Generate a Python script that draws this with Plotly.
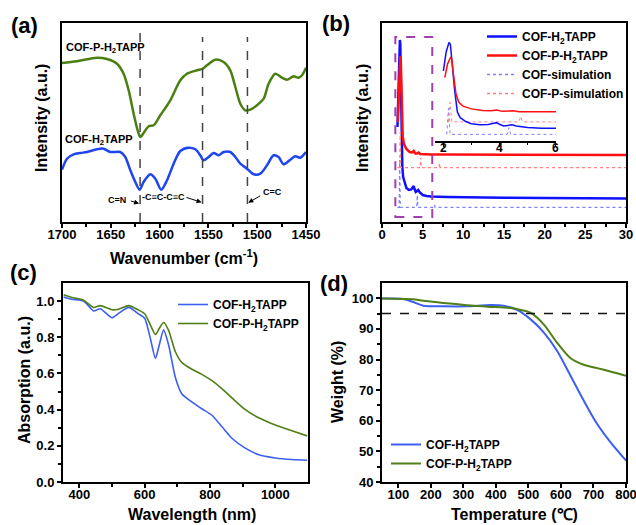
import plotly.graph_objects as go

# ---------------- DATA ----------------
# (a) FTIR, wavenumber (cm-1) vs intensity (a.u.)
ftir_wn_p = [1700, 1684.7, 1664.2, 1653.9, 1643.7, 1636.9, 1631.7, 1626.6, 1622.5, 1619.8, 1615.7, 1611.2,
             1606.1, 1599.3, 1589.0, 1578.8, 1572.0, 1561.7, 1555.6, 1551.5, 1542.9, 1534.4, 1527.6, 1522.4,
             1517.3, 1512.2, 1507.1, 1500.3, 1493.4, 1488.3, 1481.5, 1474.7, 1469.5, 1462.7, 1457.6, 1454.1, 1450]
ftir_int_p = [159, 160.7, 164.3, 163, 158.3, 148.3, 131.7, 108.3, 91.7, 85, 90, 95.7,
              96.7, 106.7, 121.7, 141.7, 148.3, 151.7, 153.3, 156.7, 162.3, 160, 151.7, 135,
              118.3, 111.7, 112.3, 116.7, 123.3, 138.3, 148.3, 144.3, 142.3, 145.7, 144.3, 146.7, 154.3]
ftir_wn_c = [1700, 1694.9, 1688.1, 1681.3, 1674.4, 1664.2, 1657.3, 1650.5, 1640.3, 1635.2, 1630.0, 1624.9,
             1620.5, 1616.4, 1609.5, 1604.4, 1598.3, 1592.4, 1585.6, 1578.8, 1570.2, 1563.4, 1558.3, 1554.9,
             1549.8, 1544.6, 1539.5, 1534.4, 1527.6, 1522.4, 1517.3, 1510.5, 1503.7, 1496.8, 1490.0, 1483.2,
             1478.1, 1473.0, 1466.1, 1461.0, 1455.9, 1450]
ftir_int_c = [52.3, 63.3, 67.7, 69, 70, 72.7, 73.3, 70, 70, 65, 51.7, 40,
              32.3, 40, 47.7, 43.3, 32.3, 41.7, 58.3, 71, 74.3, 72.7, 66.7, 61.7,
              65, 69, 66.7, 70, 70, 65, 58.3, 53.3, 47.7, 48.3, 56.7, 66.7,
              65, 57.7, 62.3, 65.7, 64.3, 70]
ftir_marks = [1620, 1556, 1510]

# (b) PXRD, 2theta vs intensity (a.u.)
xrd_x_c = [1.9, 2.0, 2.1, 2.2, 2.25, 2.3, 2.4, 2.5, 2.6, 2.8, 3.0, 3.3, 3.6, 3.8, 3.9, 4.0, 4.15, 4.3, 4.45,
           4.6, 4.8, 5.0, 5.5, 6.0, 8, 10, 15, 20, 25, 30]
xrd_y_c = [95, 130, 165, 182, 178, 150, 95, 55, 45, 38, 34, 32, 32.5, 35, 36, 33, 30, 31, 32,
           30, 28, 27, 26, 25.5, 25, 24.6, 24.2, 24, 23.8, 23.6]
xrd_x_p = [1.95, 2.05, 2.15, 2.25, 2.3, 2.35, 2.45, 2.55, 2.7, 3.0, 3.4, 3.7, 3.9, 4.1, 4.3, 4.5, 4.7, 5.0,
           6.0, 8, 10, 15, 20, 25, 30]
xrd_y_p = [100, 130, 155, 166, 164, 140, 100, 85, 78, 73, 70, 69.5, 71, 68.5, 68.5, 69.5, 68, 67.8,
           67.6, 67.5, 67.4, 67.2, 67.1, 67, 67]
sim_x_c = [1.9, 2.12, 2.18, 2.24, 4.28, 4.34, 4.40, 6.40, 6.46, 6.52, 30]
sim_y_c = [14.7, 14.7, 62, 14.7, 14.7, 27, 14.7, 14.7, 17, 14.7, 14.7]
sim_x_p = [1.9, 2.18, 2.24, 2.30, 4.70, 4.76, 4.82, 7.02, 7.08, 7.14, 30]
sim_y_p = [54.3, 54.3, 90, 54.3, 54.3, 64.3, 54.3, 54.3, 58.7, 54.3, 54.3]

# (c) UV-vis absorption
uv_wl = [352, 377, 413, 444, 464, 500, 520, 551, 582, 600, 617, 633, 645, 658, 673, 694, 714, 745, 775,
         806, 837, 867, 908, 949, 1000, 1051, 1097]
uv_c = [1.023, 1.01, 1.0, 0.945, 0.958, 0.908, 0.932, 0.965, 0.928, 0.905, 0.796, 0.683, 0.76, 0.841,
        0.76, 0.578, 0.487, 0.442, 0.405, 0.369, 0.305, 0.242, 0.187, 0.151, 0.133, 0.124, 0.12]
uv_p = [1.035, 1.02, 1.005, 0.965, 0.975, 0.952, 0.955, 0.975, 0.95, 0.93, 0.87, 0.815, 0.85, 0.882,
        0.84, 0.72, 0.66, 0.623, 0.595, 0.56, 0.515, 0.465, 0.4, 0.355, 0.315, 0.283, 0.255]

# (d) TGA
tga_t = [50, 115, 146, 177, 239, 311, 383, 424, 465, 506, 547, 588, 629, 670, 711, 752, 800]
tga_c = [99.9, 99.8, 98.8, 97.6, 97.4, 97.4, 97.8, 97.6, 96.2, 93.2, 88.9, 82.9, 74.8, 66.6, 59.0, 53.0, 47.0]
tga_p = [99.9, 99.8, 99.7, 99.2, 98.5, 97.7, 97.2, 97.0, 96.5, 95.3, 91.5, 85.5, 80.5, 78.3, 77.2, 76.1, 74.7]
tga_ref = 95

name_c = "COF-H<sub>2</sub>TAPP"
name_p = "COF-P-H<sub>2</sub>TAPP"

# ---------------- STYLE ----------------
W, H = 636, 525
def px(x): return x / W
def py(y): return 1 - y / H

FONT = "Arial, Liberation Sans, sans-serif"
BLUE_A, GREEN_A = "#1f45f0", "#4a7f12"
BLUE_B, RED_B = "#1010ff", "#ff1010"
BLUE_SIM, RED_SIM = "#8080ff", "#ff8080"
BLUE_C, GREEN_C = "#3c5ff2", "#4f7f17"
PURPLE = "#a040b0"

fig = go.Figure()

# (a)
fig.add_trace(go.Scatter(x=ftir_wn_p, y=ftir_int_p, mode="lines", line=dict(color=GREEN_A, width=2.5, shape="spline", smoothing=0.8),
                         showlegend=False, xaxis="x", yaxis="y"))
fig.add_trace(go.Scatter(x=ftir_wn_c, y=ftir_int_c, mode="lines", line=dict(color=BLUE_A, width=2.5, shape="spline", smoothing=0.8),
                         showlegend=False, xaxis="x", yaxis="y"))
for m, top in zip(ftir_marks, [190, 185, 185]):
    fig.add_trace(go.Scatter(x=[m, m], y=[0, top], mode="lines", line=dict(color="#444", width=1.5, dash="dash"),
                             showlegend=False, xaxis="x", yaxis="y"))

# (b)
fig.add_trace(go.Scatter(x=xrd_x_c, y=xrd_y_c, mode="lines", name=name_c, line=dict(color=BLUE_B, width=2.5),
                         xaxis="x2", yaxis="y2", legend="legend"))
fig.add_trace(go.Scatter(x=xrd_x_p, y=xrd_y_p, mode="lines", name=name_p, line=dict(color=RED_B, width=2.5),
                         xaxis="x2", yaxis="y2", legend="legend"))
fig.add_trace(go.Scatter(x=sim_x_c, y=sim_y_c, mode="lines", name="COF-simulation", line=dict(color=BLUE_SIM, width=1.3, dash="dot"),
                         xaxis="x2", yaxis="y2", legend="legend"))
fig.add_trace(go.Scatter(x=sim_x_p, y=sim_y_p, mode="lines", name="COF-P-simulation", line=dict(color=RED_SIM, width=1.3, dash="dot"),
                         xaxis="x2", yaxis="y2", legend="legend"))

# inset of (b)
def clip(xs, ys, shift):
    pts = [(a, b + shift) for a, b in zip(xs, ys) if a >= 2.0]
    return [p[0] for p in pts], [p[1] for p in pts]

for xs, ys, sh, col, w, d in [(sim_x_c, sim_y_c, 0, BLUE_SIM, 1, "dot"),
                              (sim_x_p, sim_y_p, -17, RED_SIM, 1, "dot"),
                              (xrd_x_c, xrd_y_c, 0, BLUE_B, 1.5, "solid"),
                              (xrd_x_p, xrd_y_p, -12, RED_B, 1.5, "solid")]:
    ix, iy = clip(xs, ys, sh)
    fig.add_trace(go.Scatter(x=ix, y=iy, mode="lines", line=dict(color=col, width=w, dash=d),
                             showlegend=False, xaxis="x5", yaxis="y5"))

# (c)
fig.add_trace(go.Scatter(x=uv_wl, y=uv_c, mode="lines", name=name_c, line=dict(color=BLUE_C, width=1.6, shape="spline", smoothing=0.6),
                         xaxis="x3", yaxis="y3", legend="legend2"))
fig.add_trace(go.Scatter(x=uv_wl, y=uv_p, mode="lines", name=name_p, line=dict(color=GREEN_C, width=1.6, shape="spline", smoothing=0.6),
                         xaxis="x3", yaxis="y3", legend="legend2"))

# (d)
fig.add_trace(go.Scatter(x=tga_t, y=tga_c, mode="lines", name=name_c, line=dict(color=BLUE_C, width=2, shape="spline", smoothing=0.8),
                         xaxis="x4", yaxis="y4", legend="legend3"))
fig.add_trace(go.Scatter(x=tga_t, y=tga_p, mode="lines", name=name_p, line=dict(color=GREEN_C, width=2, shape="spline", smoothing=0.8),
                         xaxis="x4", yaxis="y4", legend="legend3"))
fig.add_trace(go.Scatter(x=[50, 800], y=[tga_ref, tga_ref], mode="lines", line=dict(color="#111", width=1.5, dash="dash"),
                         showlegend=False, xaxis="x4", yaxis="y4"))

tickfont = dict(family=FONT, size=13, color="black", weight="bold")
base_ax = dict(showline=True, linecolor="black", linewidth=2, mirror=True, showgrid=False, zeroline=False,
               automargin=False, tickfont=tickfont, ticks="outside", ticklen=4, tickwidth=1.5, tickcolor="black",
               ticklabeloverflow="allow")
base_x = dict(base_ax, ticklabelstandoff=-5)

legfont = dict(family=FONT, size=12, color="black", weight="bold")
leg = dict(bgcolor="rgba(0,0,0,0)", font=legfont, xanchor="left", yanchor="top", itemwidth=30, tracegroupgap=0)

fig.update_layout(
    template="none",
    width=W, height=H, margin=dict(l=0, r=0, t=0, b=0, autoexpand=False),
    paper_bgcolor="white", plot_bgcolor="white",
    font=dict(family=FONT, color="black"),
    xaxis=dict(base_x, domain=[px(62), px(306)], range=[1700, 1450], tickvals=[1700, 1650, 1600, 1550, 1500, 1450],
               minor=dict(ticks="outside", ticklen=3, dtick=25, tickcolor="black"), anchor="y"),
    yaxis=dict(base_ax, domain=[py(222), py(23)], range=[0, 199], ticks="", showticklabels=False, anchor="x"),
    xaxis2=dict(base_x, domain=[px(382), px(626)], range=[0, 30], dtick=5,
                minor=dict(ticks="outside", ticklen=3, dtick=2.5, tickcolor="black"), anchor="y2"),
    yaxis2=dict(base_ax, domain=[py(222), py(23)], range=[0, 199], ticks="", showticklabels=False, anchor="x2"),
    xaxis3=dict(base_x, domain=[px(63), px(308)], range=[350, 1100], tickvals=[400, 600, 800, 1000],
                minor=dict(ticks="outside", ticklen=3, tickvals=[500, 700, 900], tickcolor="black"), anchor="y3"),
    yaxis3=dict(base_ax, domain=[py(482), py(283)], range=[0, 1.1], tickvals=[0, 0.2, 0.4, 0.6, 0.8, 1.0], tickformat=".1f",
                minor=dict(ticks="outside", ticklen=3, tickvals=[0.1, 0.3, 0.5, 0.7, 0.9], tickcolor="black"), anchor="x3"),
    xaxis4=dict(base_x, domain=[px(382), px(626)], range=[50, 800], tickvals=[100, 200, 300, 400, 500, 600, 700, 800], anchor="y4"),
    yaxis4=dict(base_ax, domain=[py(482), py(283)], range=[40, 105], tickvals=[40, 50, 60, 70, 80, 90, 100],
                minor=dict(ticks="outside", ticklen=3, tickvals=[45, 55, 65, 75, 85, 95], tickcolor="black"), anchor="x4"),
    xaxis5=dict(showline=True, linecolor="black", linewidth=1.5, mirror=False, showgrid=False, zeroline=False,
                automargin=False, domain=[px(435), px(556)], range=[1.7, 6.02], tickvals=[2, 4, 6], ticks="outside", ticklen=4,
                tickcolor="black", tickfont=dict(family=FONT, size=12, color="black", weight="bold"),
                ticklabelstandoff=-9, ticklabeloverflow="allow",
                minor=dict(ticks="outside", ticklen=2, tickvals=[3, 5], tickcolor="black"), anchor="y5"),
    yaxis5=dict(domain=[py(141), py(35)], range=[2.6, 195.4], visible=False, automargin=False, anchor="x5"),
    legend=dict(leg, x=px(482), y=py(22)),
    legend2=dict(leg, x=px(173), y=py(290)),
    legend3=dict(leg, x=px(386), y=py(430)),
)

# purple dashed zoom box in (b)
fig.add_shape(type="rect", xref="x2", yref="y2", x0=1.64, x1=6.18, y0=5, y1=185,
              line=dict(color=PURPLE, width=2, dash="dash"), fillcolor="rgba(0,0,0,0)")

ann = []
def txt(t, x, y, size, xanchor="center", yanchor="middle", angle=0):
    ann.append(dict(text=t, x=px(x), y=py(y), xref="paper", yref="paper", showarrow=False,
                    xanchor=xanchor, yanchor=yanchor, textangle=angle,
                    font=dict(family=FONT, size=size, color="black", weight="bold")))

# panel labels
txt("(a)", 24, 25, 22)
txt("(b)", 336, 23, 22)
txt("(c)", 23, 272, 22)
txt("(d)", 334, 283, 22)
# axis titles
txt("Wavenumber (cm<sup>-1</sup>)", 184, 257, 16)
txt("Intensity (a.u.)", 42, 118, 16, angle=-90)
txt("Intensity (a.u.)", 363, 118, 16, angle=-90)
txt("Absorption (a.u.)", 24, 380, 16, angle=-90)
txt("Wavelength (nm)", 192, 514, 16)
txt("Weight (%)", 337, 382, 16, angle=-90)
txt("Temperature (℃)", 514, 514, 16)
# (a) curve labels
txt(name_p, 64, 48, 11, xanchor="left")
txt(name_c, 63, 140, 11, xanchor="left")
txt("C=N", 117, 200, 9)
txt("-C≡C-C≡C", 163, 197, 9)
txt("C=C", 272, 192, 9)

# arrows in (a)
for (x0, y0, x1, y1) in [(1631, 21.5, 1621, 18.5), (1574, 25, 1557, 19.7), (1495.4, 27, 1509.1, 19.3)]:
    ann.append(dict(x=x1, y=y1, ax=x0, ay=y0, xref="x", yref="y", axref="x", ayref="y", text="",
                    showarrow=True, arrowhead=2, arrowsize=1, arrowwidth=1, arrowcolor="black"))

fig.update_layout(annotations=ann)
fig.write_html("out.html", config={"displayModeBar": False},
               post_script="document.body.style.margin='0';document.body.style.padding='0';")
